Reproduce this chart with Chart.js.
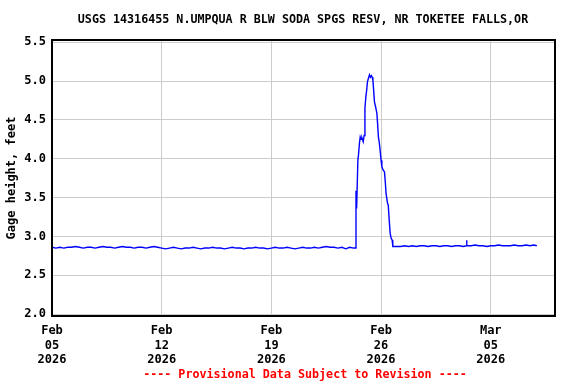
<!DOCTYPE html>
<html lang="en">
<head>
    <meta charset="UTF-8">
    <title>USGS 14316455 gage height</title>
    <script src="https://cdn.jsdelivr.net/npm/chart.js"></script>
    <style>
        html, body { margin: 0; padding: 0; background: #ffffff; }
        #wrap { width: 576px; height: 384px; }
    </style>
</head>
<body>
    <div id="wrap"><canvas id="gageChart" width="576" height="384"></canvas></div>

<script>
    // chart texts
    const chartTitle = "USGS 14316455 N.UMPQUA R BLW SODA SPGS RESV, NR TOKETEE FALLS,OR";
    const yTitle = "Gage height, feet";
    const footerText = "---- Provisional Data Subject to Revision ----";

    // x ticks, in days since Feb 05 2026 00:00
    const tickDays = [0, 7, 14, 21, 28];
    const tickLabels = [["Feb", "05", "2026"], ["Feb", "12", "2026"], ["Feb", "19", "2026"], ["Feb", "26", "2026"], ["Mar", "05", "2026"]];
    const yTicks = [2.0, 2.5, 3.0, 3.5, 4.0, 4.5, 5.0, 5.5];

    // readings every 6 hours from Feb 05 00:00 until the rise on Feb 24
    const baseStepDays = 0.25;
    const baseValues = [
        2.86, 2.85, 2.86, 2.85, 2.86, 2.86, 2.87, 2.86, 2.85, 2.86, 2.86, 2.85, 2.86, 2.87,
        2.86, 2.86, 2.85, 2.86, 2.87, 2.86, 2.86, 2.85, 2.86, 2.86, 2.85, 2.86, 2.87, 2.86,
        2.85, 2.84, 2.85, 2.86, 2.85, 2.84, 2.85, 2.85, 2.86, 2.85, 2.84, 2.85, 2.85, 2.86,
        2.85, 2.85, 2.84, 2.85, 2.86, 2.85, 2.85, 2.84, 2.85, 2.85, 2.86, 2.85, 2.85, 2.84,
        2.85, 2.86, 2.85, 2.85, 2.86, 2.85, 2.84, 2.85, 2.86, 2.85, 2.85, 2.86, 2.85, 2.86,
        2.87, 2.86, 2.86, 2.85, 2.86, 2.84, 2.86, 2.85
    ];

    // the release event, Feb 24 - Feb 26
    const eventDays = [
        19.38, 19.40, 19.42, 19.44, 19.52, 19.56, 19.62, 19.67, 19.72, 19.78, 19.86, 19.92,
        19.97, 20.03, 20.08, 20.13, 20.20, 20.26, 20.32, 20.38, 20.44, 20.48, 20.52, 20.58,
        20.64, 20.73, 20.78, 20.83, 20.88, 20.94, 21.00, 21.05, 21.12, 21.22, 21.27, 21.32,
        21.41, 21.46, 21.52, 21.58, 21.64, 21.71, 21.75
    ];
    const eventValues = [
        2.85, 3.58, 3.58, 3.36, 3.98, 4.05, 4.20, 4.28, 4.25, 4.27, 4.22, 4.30,
        4.65, 4.80, 4.88, 4.99, 5.04, 5.08, 5.05, 5.07, 5.05, 5.01, 4.90, 4.73,
        4.68, 4.59, 4.45, 4.28, 4.22, 4.11, 3.98, 3.90, 3.86, 3.83, 3.70, 3.55,
        3.43, 3.40, 3.21, 3.04, 2.98, 2.95, 2.87
    ];

    // back to base flow until Mar 07
    const afterDays = [
        22.00, 22.25, 22.50, 22.75, 23.00, 23.25, 23.50, 23.75, 24.00, 24.25, 24.50, 24.75,
        25.00, 25.25, 25.50, 25.75, 26.00, 26.25, 26.44, 26.46, 26.48, 26.75, 27.00, 27.25,
        27.50, 27.75, 28.00, 28.25, 28.50, 28.75, 29.00, 29.25, 29.50, 29.75, 30.00, 30.25,
        30.50, 30.75, 30.94
    ];
    const afterValues = [
        2.87, 2.87, 2.88, 2.87, 2.88, 2.87, 2.88, 2.88, 2.87, 2.88, 2.88, 2.87,
        2.88, 2.88, 2.87, 2.88, 2.88, 2.87, 2.88, 2.95, 2.88, 2.88, 2.89, 2.88,
        2.88, 2.87, 2.88, 2.88, 2.89, 2.88, 2.88, 2.88, 2.89, 2.88, 2.88, 2.89,
        2.88, 2.89, 2.88
    ];

    const monoFont = "'DejaVu Sans Mono', 'Liberation Mono', monospace";

    // builds the {x, y} points the line needs
    let points = [];
    baseValues.forEach((v, i) => points.push({ x: i * baseStepDays, y: v }));
    eventDays.forEach((d, i) => points.push({ x: d, y: eventValues[i] }));
    afterDays.forEach((d, i) => points.push({ x: d, y: afterValues[i] }));

    // frame, title and footer
    const framePlugin = {
        id: "framePlugin",
        afterDraw(chart) {
            const ctx = chart.ctx;
            const a = chart.chartArea;
            ctx.save();
            ctx.strokeStyle = "#000000";
            ctx.lineWidth = 2;
            ctx.strokeRect(a.left, a.top, a.right - a.left, a.bottom - a.top);

            ctx.textAlign = "center";
            ctx.textBaseline = "middle";
            ctx.font = "bold 11.7px " + monoFont;
            ctx.fillStyle = "#000000";
            ctx.fillText(chartTitle, 303, 20);

            ctx.fillStyle = "#ff0000";
            ctx.fillText(footerText, 305, 375);
            ctx.restore();
        }
    };

    new Chart(document.getElementById("gageChart"), {
        type: "line",
        data: {
            datasets: [{
                data: points,
                borderColor: "#0000ff",
                borderWidth: 1.4,
                pointRadius: 0,
                tension: 0
            }]
        },
        options: {
            responsive: false,
            animation: false,
            layout: { padding: { top: 40, right: 21, left: 0, bottom: 0 } },
            plugins: {
                legend: { display: false },
                tooltip: { enabled: false }
            },
            scales: {
                x: {
                    type: "linear",
                    min: 0,
                    max: 32.1,
                    afterBuildTicks: scale => { scale.ticks = tickDays.map(v => ({ value: v })); },
                    afterFit: scale => { scale.height = 68; },
                    grid: { color: "#cccccc", lineWidth: 1, drawTicks: false },
                    border: { display: false },
                    ticks: {
                        padding: 8,
                        maxRotation: 0,
                        autoSkip: false,
                        color: "#000000",
                        font: { family: monoFont, size: 12, weight: "bold", lineHeight: 1.2 },
                        callback: value => tickLabels[tickDays.indexOf(value)]
                    }
                },
                y: {
                    min: 1.975,
                    max: 5.53,
                    afterBuildTicks: scale => { scale.ticks = yTicks.map(v => ({ value: v })); },
                    afterFit: scale => { scale.width = 52; },
                    grid: { color: "#cccccc", lineWidth: 1, drawTicks: false },
                    border: { display: false },
                    title: {
                        display: true,
                        text: yTitle,
                        color: "#000000",
                        font: { family: monoFont, size: 12, weight: "bold" },
                        padding: { top: 5, bottom: 0 }
                    },
                    ticks: {
                        padding: 6,
                        color: "#000000",
                        font: { family: monoFont, size: 12, weight: "bold" },
                        callback: value => value.toFixed(1)
                    }
                }
            }
        },
        plugins: [framePlugin]
    });
</script>
</body>
</html>
